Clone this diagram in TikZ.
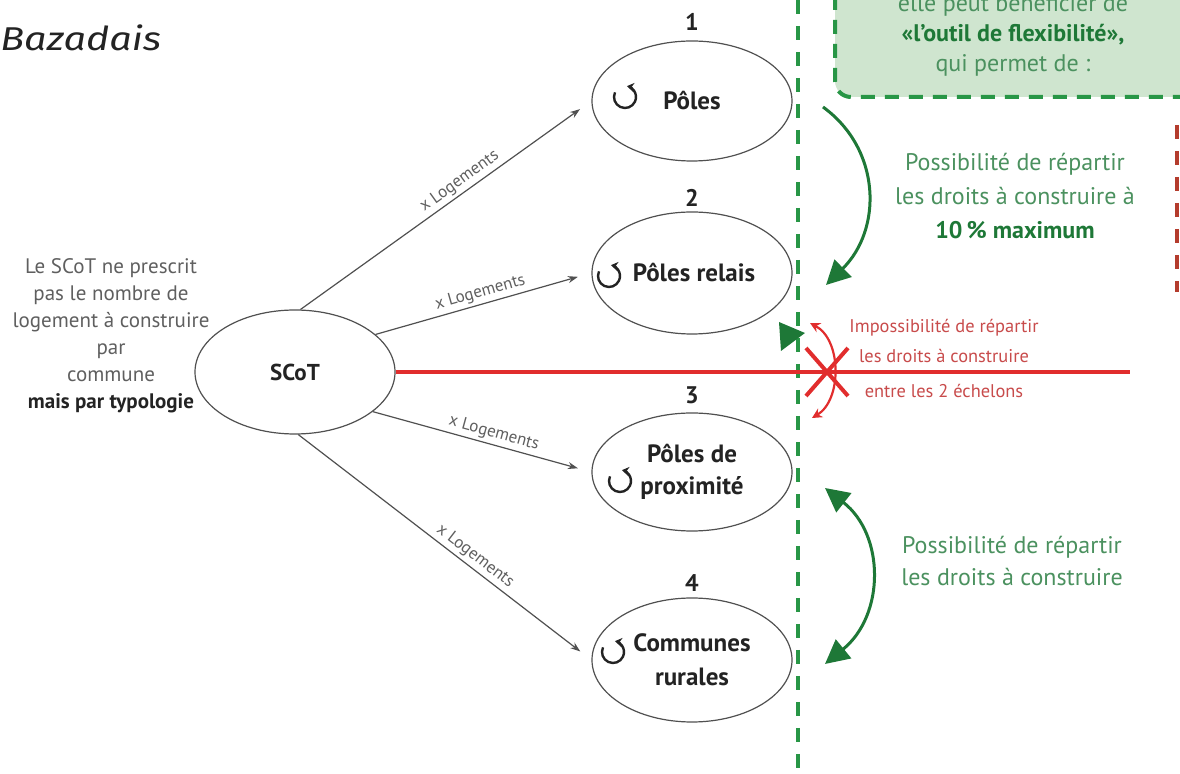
\documentclass[tikz,border=0pt]{standalone}
\usepackage{fontspec}
\setmainfont{PT Sans}
\newfontfamily\bazfont[FakeStretch=1.2]{Fira Sans}
\usetikzlibrary{shapes.geometric,arrows.meta}
\definecolor{gline}{RGB}{40,150,70}
\definecolor{gtext}{RGB}{75,145,95}
\definecolor{gdark}{RGB}{30,120,55}
\definecolor{gfill}{RGB}{207,229,207}
\definecolor{rline}{RGB}{225,45,45}
\definecolor{rtext}{RGB}{200,75,75}
\definecolor{rdash}{RGB}{180,60,45}
\definecolor{ink}{RGB}{35,35,35}
\definecolor{grayline}{RGB}{80,80,80}
\definecolor{graytext}{RGB}{95,95,95}
\begin{document}
\begin{tikzpicture}[x=0.5pt,y=-0.5pt,
  bubble/.style={ellipse, draw=grayline, line width=0.6pt, minimum width=100pt, minimum height=60pt,
    inner sep=0pt, align=center, font=\fontsize{12.5}{16}\selectfont\bfseries, text=ink},
  feed/.style={draw=grayline, line width=0.6pt, -{Stealth[length=5pt,width=3.5pt]}, shorten >=7pt},
  loglab/.style={sloped, above, font=\fontsize{8.5}{9}\selectfont, text=graytext, inner sep=1.5pt},
  num/.style={font=\fontsize{12}{13}\selectfont\bfseries, text=ink},
  icon/.style={line width=1.2pt, draw=ink, -{Stealth[length=3.5pt,width=4.5pt]}},
  greentxt/.style={align=center, text=gtext, font=\fontsize{12}{17}\selectfont},
  redtxt/.style={align=center, text=rtext, font=\fontsize{9.2}{15}\selectfont},
  garrow/.style={draw=gdark, line width=1.5pt},
]
\path[use as bounding box] (0,0) rectangle (1180,774);

% title
\node[anchor=base west, inner sep=0pt, font=\bazfont\itshape\fontsize{16.5}{18}\selectfont, text=ink] (title) at (0,51) {Bazadais};

% green box (top right)
\draw[gline, fill=gfill, line width=2pt, dash pattern=on 7pt off 5pt, rounded corners=8pt]
  (1200,-30) -- (835,-30) -- (835,97) -- (1200,97);
\node[greentxt, font=\fontsize{12}{15}\selectfont] (boxtxt) at (1013,35)
  {elle peut bénéficier de\\ \textcolor{gdark}{\bfseries «l'outil de flexibilité»,}\\ qui permet de :};

% green dashed separator
\coordinate (septop) at (798,0);
\coordinate (sepbot) at (798,774);
\draw[gline, line width=2pt, dash pattern=on 7pt off 6pt] (septop) -- (sepbot);

% red dashed at right edge
\coordinate (rdtop) at (1177,125);
\coordinate (rdbot) at (1177,292);
\draw[rdash, line width=2pt, dash pattern=on 7pt off 6pt] (rdtop) -- (rdbot);

% left explanatory text
\node[align=center, text=graytext, font=\fontsize{10.5}{13.5}\selectfont] (expl) at (111,336)
  {Le SCoT ne prescrit\\ pas le nombre de\\ logement à construire\\ par\\ commune\\ \textcolor{ink}{\bfseries mais par typologie}};

% nodes
\node[bubble, minimum height=62pt, font=\fontsize{11.5}{14}\selectfont\bfseries] (scot) at (295,372) {SCoT};
\node[bubble] (poles) at (692,101) {Pôles};
\node[bubble, minimum height=61pt] (relais) at (692,273) {\hspace*{2pt}Pôles relais};
\node[bubble, minimum height=59pt] (prox) at (692,472) {Pôles de\\ proximité};
\node[bubble, minimum height=62pt, font=\fontsize{12.5}{17}\selectfont\bfseries] (rur) at (692,660) {Communes\\ rurales};

% numbers
\node[num] (n1) at (692,22) {1};
\node[num] (n2) at (692,198) {2};
\node[num] (n3) at (692,395) {3};
\node[num] (n4) at (692,583) {4};

% icons
\foreach \cx/\cy in {625/97, 609/276, 620/481, 613/652}{
  \coordinate (ic) at (\cx,\cy);
  \draw[icon] ([shift={(155:5.5pt)}]ic) arc[start angle=155, end angle=440, radius=5.5pt];
}

% connectors
\draw[feed] (scot.85) -- node[loglab, pos=0.57] {x Logements} (poles.west);
\draw[feed] (scot.25) -- node[loglab, pos=0.5] {x Logements} (relais.west);
\draw[feed] (scot.-27) -- node[loglab, pos=0.54] {x Logements} (prox.west);
\draw[feed] (scot.-87) -- node[loglab, pos=0.58] {x Logements} (rur.west);

% red barrier line
\coordinate (redend) at (1130,372);
\draw[rline, line width=1.8pt] (scot.east) -- (redend);
\draw[rline, line width=2pt] (806,348) -- (848,396) (848,348) -- (806,396);
\coordinate (ra) at (810,323);
\coordinate (rb) at (812,418);
\draw[rline, line width=1.1pt, {Stealth[length=5pt,width=5pt]}-{Stealth[length=5pt,width=5pt]}]
  (ra) .. controls (842,340) and (842,400) .. (rb);
\node[redtxt] (imp) at (944,341) {Impossibilité de répartir\\ les droits à construire};
\node[redtxt] (ech) at (944,391) {entre les 2 échelons};

% small green triangle
\fill[gdark] (779,322) -- (805,333) -- (781,351) -- cycle;

% green arrows
\coordinate (ga1) at (823,107);
\coordinate (ga2) at (826,285);
\draw[garrow, -{Triangle[length=12pt,width=12pt]}] (ga1) .. controls (882,150) and (882,230) .. (ga2);
\node[greentxt] (pos1) at (1015,196)
  {Possibilité de répartir\\ les droits à construire à\\ \textcolor{gdark}{\bfseries 10\,\% maximum}};

\coordinate (gb1) at (825,488);
\coordinate (gb2) at (825,664);
\draw[garrow, {Triangle[length=12pt,width=12pt]}-{Triangle[length=12pt,width=12pt]}]
  (gb1) .. controls (885,535) and (885,615) .. (gb2);
\node[greentxt, font=\fontsize{12}{16}\selectfont] (pos2) at (1012,561)
  {Possibilité de répartir\\ les droits à construire};
\end{tikzpicture}
\end{document}
